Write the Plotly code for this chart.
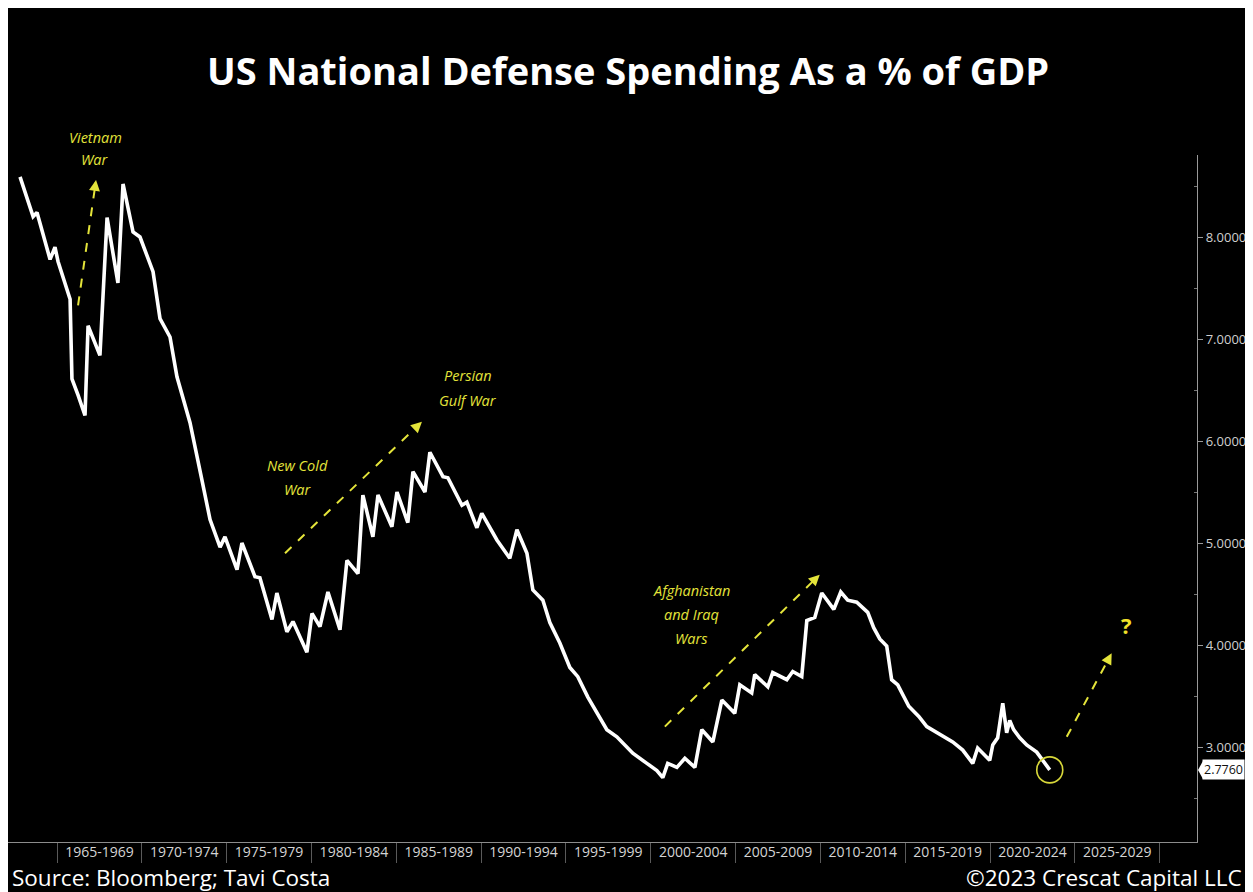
import plotly.graph_objects as go

# ---------------- data ----------------
years = [1962.82, 1963.59, 1963.82, 1964.59, 1964.88, 1965.06, 1965.77, 1965.88, 1966.24, 1966.65,
         1966.83, 1967.53, 1967.95, 1968.59, 1968.89, 1969.48, 1969.89, 1970.66, 1971.07, 1971.66,
         1972.07, 1972.84, 1973.54, 1974.02, 1974.61, 1974.90, 1975.61, 1975.90, 1976.67, 1976.96,
         1977.67, 1977.96, 1978.55, 1978.91, 1979.73, 1980.03, 1980.50, 1980.97, 1981.68, 1982.09,
         1982.74, 1983.03, 1983.62, 1983.92, 1984.74, 1985.04, 1985.68, 1985.98, 1986.69, 1986.98,
         1987.75, 1988.04, 1988.87, 1989.16, 1989.75, 1990.04, 1990.93, 1991.69, 1992.11, 1992.70,
         1993.05, 1993.64, 1994.05, 1994.64, 1995.23, 1995.70, 1996.29, 1996.88, 1997.41, 1998.00,
         1998.35, 1998.94, 1999.77, 2000.36, 2000.71, 2001.00, 2001.54, 2002.01, 2002.60, 2003.01,
         2003.66, 2004.19, 2004.95, 2005.25, 2005.95, 2006.13, 2006.90, 2007.19, 2008.02, 2008.37,
         2008.90, 2009.20, 2009.67, 2010.08, 2010.79, 2011.20, 2011.61, 2012.14, 2012.79, 2013.14,
         2013.50, 2013.91, 2014.20, 2014.56, 2015.21, 2015.80, 2016.27, 2017.03, 2017.80, 2018.39,
         2018.98, 2019.27, 2019.98, 2020.16, 2020.45, 2020.75, 2020.98, 2021.16, 2021.39, 2021.75,
         2022.16, 2022.75, 2023.10, 2023.52]
defense_pct = [8.59, 8.20, 8.24, 7.78, 7.90, 7.76, 7.39, 6.61, 6.45, 6.25,
               7.13, 6.84, 8.19, 7.55, 8.52, 8.05, 8.00, 7.66, 7.20, 7.02,
               6.63, 6.18, 5.62, 5.23, 4.96, 5.06, 4.74, 5.00, 4.67, 4.66,
               4.25, 4.51, 4.13, 4.23, 3.93, 4.31, 4.18, 4.52, 4.15, 4.83,
               4.70, 5.47, 5.06, 5.47, 5.16, 5.50, 5.20, 5.70, 5.50, 5.89,
               5.65, 5.64, 5.37, 5.40, 5.15, 5.29, 5.03, 4.85, 5.13, 4.90,
               4.54, 4.44, 4.22, 4.02, 3.78, 3.69, 3.49, 3.33, 3.17, 3.10,
               3.04, 2.94, 2.84, 2.77, 2.70, 2.84, 2.80, 2.89, 2.80, 3.17,
               3.05, 3.46, 3.33, 3.61, 3.53, 3.71, 3.59, 3.73, 3.66, 3.74,
               3.69, 4.24, 4.27, 4.51, 4.35, 4.52, 4.44, 4.42, 4.32, 4.17,
               4.06, 3.99, 3.66, 3.61, 3.40, 3.30, 3.20, 3.13, 3.05, 2.97,
               2.84, 2.99, 2.87, 3.02, 3.09, 3.43, 3.14, 3.26, 3.17, 3.09,
               3.02, 2.95, 2.87, 2.776]

bin_starts = [1965, 1970, 1975, 1980, 1985, 1990, 1995, 2000, 2005, 2010, 2015, 2020, 2025]
bin_labels = ["1965-1969", "1970-1974", "1975-1979", "1980-1984", "1985-1989", "1990-1994",
              "1995-1999", "2000-2004", "2005-2009", "2010-2014", "2015-2019", "2020-2024",
              "2025-2029"]
y_ticks = [3, 4, 5, 6, 7, 8]
last_value = 2.776

# annotation texts (one entry per line) with anchor (year, value)
note_lines = [
    ("Vietnam", 1967.24, 8.98), ("War", 1967.24, 8.76),
    ("New Cold", 1979.20, 5.76), ("War", 1979.20, 5.52),
    ("Persian", 1989.22, 6.64), ("Gulf War", 1989.22, 6.40),
    ("Afghanistan", 2002.42, 4.53), ("and Iraq", 2002.42, 4.30), ("Wars", 2002.42, 4.06),
]
# dashed arrows: (tail year, tail value, tip year, tip value)
arrows = [
    (1966.24, 7.33, 1967.30, 8.56),
    (1978.44, 4.90, 1986.51, 6.19),
    (2000.83, 3.20, 2009.96, 4.69),
    (2024.52, 3.10, 2027.17, 3.92),
]

# ---------------- layout geometry ----------------
W, H = 1245, 884
ML, MR, MT, MB = 0, 56, 147, 50
XR = [1962.11, 2032.2]
YR = [2.069, 8.804]
pw = W - ML - MR
ph = H - MT - MB
px_per_x = pw / (XR[1] - XR[0])
px_per_y = ph / (YR[1] - YR[0])


def ypaper(v):
    return (v - YR[0]) / (YR[1] - YR[0])


YELLOW = "#e4e43a"

fig = go.Figure()
fig.add_trace(go.Scatter(x=years, y=defense_pct, mode="lines",
                         line=dict(color="white", width=3.6),
                         hoverinfo="x+y", showlegend=False))
# dummy trace so the label axis is rendered
fig.add_trace(go.Scatter(x=[XR[0]], y=[None], xaxis="x2", mode="lines",
                         showlegend=False, hoverinfo="skip"))

shapes = []
annotations = []

for t in note_lines:
    annotations.append(dict(x=t[1], y=ypaper(t[2]), xref="x", yref="paper",
                            text="<i>%s</i>" % t[0],
                            showarrow=False, xanchor="center", yanchor="middle",
                            font=dict(family="Open Sans", size=14.5, color=YELLOW)))

for (x0, y0, x1, y1) in arrows:
    dxp = (x1 - x0) * px_per_x
    dyp = (y1 - y0) * px_per_y
    L = (dxp ** 2 + dyp ** 2) ** 0.5
    ux, uy = dxp / L, dyp / L
    back = 7.0
    shapes.append(dict(type="line", xref="x", yref="y",
                       x0=x0, y0=y0,
                       x1=x1 - ux * back / px_per_x, y1=y1 - uy * back / px_per_y,
                       line=dict(color=YELLOW, width=2, dash="dash")))
    annotations.append(dict(x=x1, y=y1, xref="x", yref="y", text="",
                            showarrow=True, arrowhead=2, arrowsize=1.1, arrowwidth=2,
                            arrowcolor=YELLOW, ax=-ux * 9, ay=uy * 9, standoff=0))

annotations.append(dict(x=2028.05, y=4.20, xref="x", yref="y", text="<b>?</b>",
                        showarrow=False, font=dict(family="Open Sans", size=22, color="#f0e02a")))

# circle around last point
rx = 13 / px_per_x
ry = 13 / px_per_y
shapes.append(dict(type="circle", xref="x", yref="y",
                   x0=years[-1] - rx, x1=years[-1] + rx,
                   y0=defense_pct[-1] - ry, y1=defense_pct[-1] + ry,
                   line=dict(color="#d8d83a", width=1.6)))

# last value tag on the right axis
annotations.append(dict(x=1.0 + 5 / pw, y=last_value, xref="paper", yref="y",
                        text="2.7760", showarrow=False, xanchor="left", yanchor="middle",
                        bgcolor="white", borderpad=1,
                        font=dict(family="Open Sans", size=12.5, color="#111111")))
hy = 9 / px_per_y
shapes.append(dict(type="path", xref="paper", yref="y",
                   path="M %f,%f L %f,%f L %f,%f Z" % (1.0 + 1 / pw, last_value,
                                                       1.0 + 6 / pw, last_value + hy,
                                                       1.0 + 6 / pw, last_value - hy),
                   fillcolor="white", line=dict(width=0)))

# title and footer
annotations.append(dict(x=(620 - ML) / pw, xref="paper", y=1 + (MT - 62) / ph, yref="paper",
                        text="US National Defense Spending As a % of GDP", showarrow=False,
                        xanchor="center", yanchor="middle",
                        font=dict(family="Open Sans", size=38, color="white", weight=700)))
annotations.append(dict(x=(2 - ML) / pw, xref="paper", y=-(869 - (H - MB)) / ph, yref="paper",
                        text="Source: Bloomberg; Tavi Costa", showarrow=False,
                        xanchor="left", yanchor="middle",
                        font=dict(family="Open Sans", size=22.5, color="white")))
annotations.append(dict(x=(1236 - ML) / pw, xref="paper", y=-(869 - (H - MB)) / ph, yref="paper",
                        text="©2023 Crescat Capital LLC", showarrow=False,
                        xanchor="right", yanchor="middle",
                        font=dict(family="Open Sans", size=22.5, color="white")))

fig.update_layout(
    width=W, height=H,
    margin=dict(l=ML, r=MR, t=MT, b=MB),
    paper_bgcolor="black", plot_bgcolor="black",
    showlegend=False,
    xaxis=dict(range=XR, showgrid=False, zeroline=False, showline=True,
               linecolor="#8c8c8c", linewidth=1,
               tickmode="array", tickvals=bin_starts + [2030], ticks="outside",
               ticklen=20, tickcolor="#5a5a5a", tickwidth=1, showticklabels=False),
    xaxis2=dict(range=XR, overlaying="x", side="bottom", anchor="y", showgrid=False,
                zeroline=False, showline=False, tickmode="array",
                tickvals=[b + 2.5 for b in bin_starts], ticktext=bin_labels, ticks="",
                tickfont=dict(family="Open Sans", size=14, color="#d4d4d4")),
    yaxis=dict(range=YR, side="right", showgrid=False, zeroline=False, showline=True,
               linecolor="#9a9a9a", linewidth=1.2, tickmode="array", tickvals=y_ticks,
               ticktext=["%.4f" % v for v in y_ticks], ticks="outside", ticklen=5,
               tickcolor="#9a9a9a",
               minor=dict(tickmode="linear", tick0=2.5, dtick=1, ticks="inside",
                          ticklen=3, tickcolor="#777777"),
               tickfont=dict(family="Open Sans", size=13, color="#cfcfcf")),
    shapes=shapes,
    annotations=annotations,
)

fig.write_html("out.html")
